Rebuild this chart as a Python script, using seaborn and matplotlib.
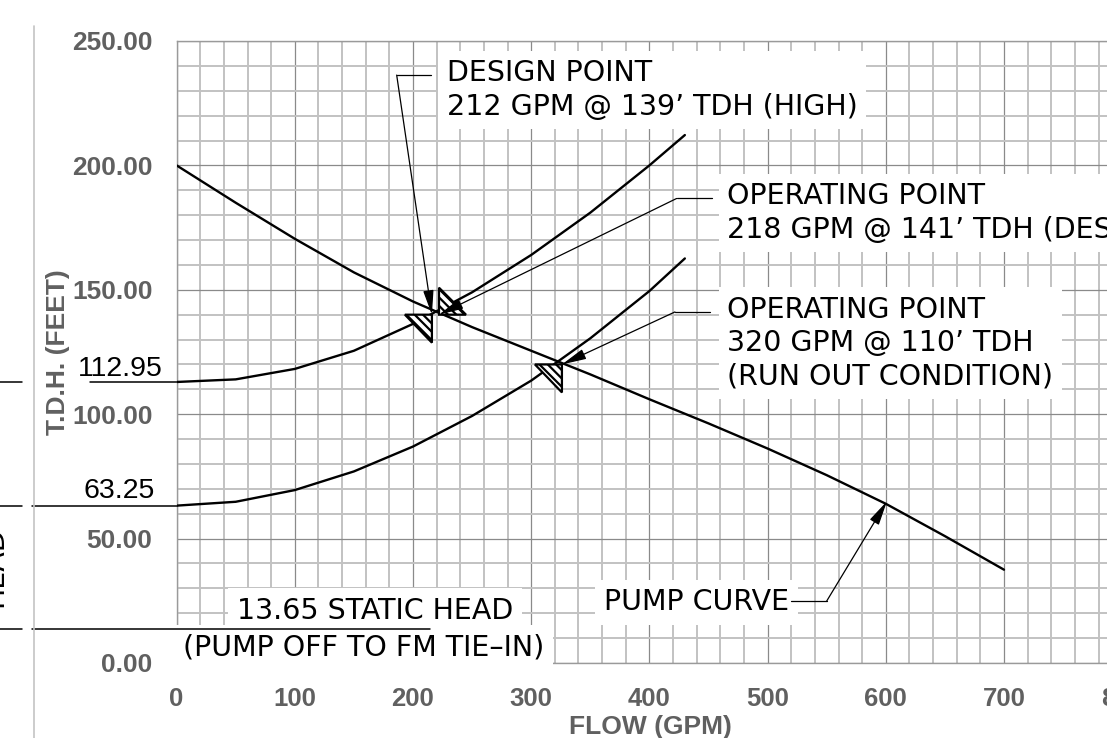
import pandas as pd
import seaborn as sns
import matplotlib.pyplot as plt
import matplotlib.transforms as mtransforms
from matplotlib.patches import Polygon
from matplotlib.lines import Line2D
from matplotlib.ticker import MultipleLocator

# values
flow_pump = [0, 50, 100, 150, 200, 250, 300, 350, 400, 450, 500, 550, 600, 650, 700]
head_pump = [200, 185, 170.5, 157, 145.3, 135, 125.5, 116, 106, 96.3, 86.2, 75.5, 64, 51, 37.5]

flow_system = [0, 50, 100, 150, 200, 250, 300, 350, 400, 430]
head_high = [112.95, 114, 118.2, 125.5, 136.3, 149, 164, 181, 200, 212.2]
head_low = [63.25, 64.8, 69.5, 77, 87, 99.3, 113.5, 130.5, 149.5, 162.6]

static_heads = [112.95, 63.25, 13.65]

design_pt = (216, 140)
operating_pt = (222, 140)
runout_pt = (326, 120)
pump_tag_pt = (601, 65)

x_ticks = [0, 100, 200, 300, 400, 500, 600, 700, 800]
y_ticks = [0, 50, 100, 150, 200, 250]

sns.set_style("white")
plt.rcParams["font.family"] = ["Liberation Sans", "DejaVu Sans"]
plt.rcParams["hatch.linewidth"] = 1.6
CAD = ["DejaVu Sans"]
cad = dict(family=CAD, fontsize=20.5, color="black")
box = dict(boxstyle="square,pad=0.3", fc="white", ec="none")
GRAY = "#606060"

fig = plt.figure(figsize=(11.07, 7.38), dpi=100)
ax = fig.add_axes([176.6 / 1107, 75 / 738, 1004.7 / 1107, 622 / 738])

pump_df = pd.DataFrame({"flow": flow_pump, "head": head_pump})
sys_df = pd.DataFrame({"flow": flow_system * 2,
                       "head": head_high + head_low,
                       "curve": ["high"] * len(flow_system) + ["low"] * len(flow_system)})

sns.lineplot(data=pump_df, x="flow", y="head", color="black", lw=1.7, ax=ax, zorder=3)
sns.lineplot(data=sys_df, x="flow", y="head", units="curve", estimator=None,
             color="black", lw=1.7, ax=ax, zorder=3)

ax.set_xlim(0, 850)
ax.set_ylim(0, 250)
ax.xaxis.set_minor_locator(MultipleLocator(20))
ax.yaxis.set_minor_locator(MultipleLocator(10))
ax.set_xticks(x_ticks, labels=[str(v) for v in x_ticks], fontsize=18.5, fontweight="bold")
ax.set_yticks(y_ticks, labels=[f"{v:.2f}" for v in y_ticks], fontsize=19, fontweight="bold")
ax.tick_params(which="both", length=0, pad=17.3, labelcolor=GRAY)
ax.grid(which="major", color="#8a8a8a", lw=0.9)
ax.grid(which="minor", color="#c2c2c2", lw=1.4)
ax.set_axisbelow(True)
ax.spines["right"].set_visible(False)
for s in ["left", "top", "bottom"]:
    ax.spines[s].set_color("#9a9a9a")
    ax.spines[s].set_linewidth(1)

ax.set_xlabel("FLOW (GPM)", fontsize=19, fontweight="bold", color=GRAY)
ax.xaxis.label.set_va("center")
ax.xaxis.set_label_coords(0.4712, -0.1029)
ax.set_ylabel("T.D.H. (FEET)", fontsize=19, fontweight="bold", color=GRAY)
ax.yaxis.label.set_va("center")
ax.yaxis.set_label_coords(-0.1185, 0.5)


# hatched triangle symbols (vertices in pixels around the point)
def tri(pt, verts):
    tr = (mtransforms.Affine2D().scale(1 / 100) + fig.dpi_scale_trans
          + mtransforms.ScaledTranslation(pt[0], pt[1], ax.transData))
    ax.add_patch(Polygon(verts, closed=True, facecolor="white", hatch="\\\\\\\\",
                         edgecolor="black", lw=1.6, transform=tr,
                         clip_on=False, zorder=6))


tri(design_pt, [(0, 0), (-27, 0), (0, -28)])
tri(operating_pt, [(0, 0), (0, 27), (27, 0)])
tri(runout_pt, [(0, 0), (-27, 0), (0, -28)])

arrow = dict(arrowstyle="-|>,head_length=0.75,head_width=0.16", color="black",
             lw=0.9, shrinkA=0, shrinkB=0, mutation_scale=20)


def leader(tip, corner, end):
    ax.annotate("", xy=tip, xytext=corner, arrowprops=arrow, zorder=7)
    ax.plot([corner[0], end], [corner[1], corner[1]], color="black", lw=0.9, zorder=7)


leader(design_pt, (186.2, 236.3), 215)
leader(operating_pt, (423, 186.7), 452.7)
leader(runout_pt, (421.6, 141.1), 451.3)
leader(pump_tag_pt, (550, 24.9), 520)

# annotation blocks
ax.text(228.5, 230.3, "DESIGN POINT\n212 GPM @ 139’ TDH (HIGH)",
        ha="left", va="center", linespacing=1.25, bbox=box, zorder=5, **cad)
ax.text(466, 180.8, "OPERATING POINT\n218 GPM @ 141’ TDH (DESIGN)",
        ha="left", va="center", linespacing=1.25, bbox=box, zorder=5, **cad)
ax.text(465.7, 128.5, "OPERATING POINT\n320 GPM @ 110’ TDH\n(RUN OUT CONDITION)",
        ha="left", va="center", linespacing=1.25, bbox=box, zorder=5, **cad)
ax.text(361.6, 24.5, "PUMP CURVE", ha="left", va="center", bbox=box, zorder=5, **cad)
ax.text(51, 21.1, "13.65 STATIC HEAD", ha="left", va="center", bbox=box, zorder=5, **cad)
ax.text(5.4, 6.2, "(PUMP OFF TO FM TIE–IN)", ha="left", va="center",
        bbox=box, zorder=5, clip_on=False, **cad)

# static head reference lines outside the grid
ax.plot([-73.3, 0], [static_heads[0]] * 2, color="black", lw=1.1, clip_on=False, zorder=8)
ax.plot([-122.3, 0], [static_heads[1]] * 2, color="black", lw=1.1, clip_on=False, zorder=8)
ax.plot([-122.3, 214.6], [static_heads[2]] * 2, color="black", lw=1.1, clip_on=False, zorder=8)
for h in static_heads:
    ax.plot([-150, -131], [h, h], color="black", lw=1.1, clip_on=False)
num = dict(family=["Liberation Sans", "DejaVu Sans"], fontsize=20.5, color="black")
ax.text(-11.5, static_heads[0] + 5.3, f"{static_heads[0]:.2f}", ha="right", va="center", **num)
ax.text(-18.3, static_heads[1] + 5.7, f"{static_heads[1]:.2f}", ha="right", va="center", **num)

fig.add_artist(Line2D([34.3 / 1107] * 2, [0, 1 - 26 / 738], color="#c4c4c4", lw=1.2))
fig.text(8 / 1107, 1 - 567 / 738, "HEAD", rotation=90, ha="right", va="center", **cad)

fig.savefig("out.png", dpi=100)
plt.close("all")
